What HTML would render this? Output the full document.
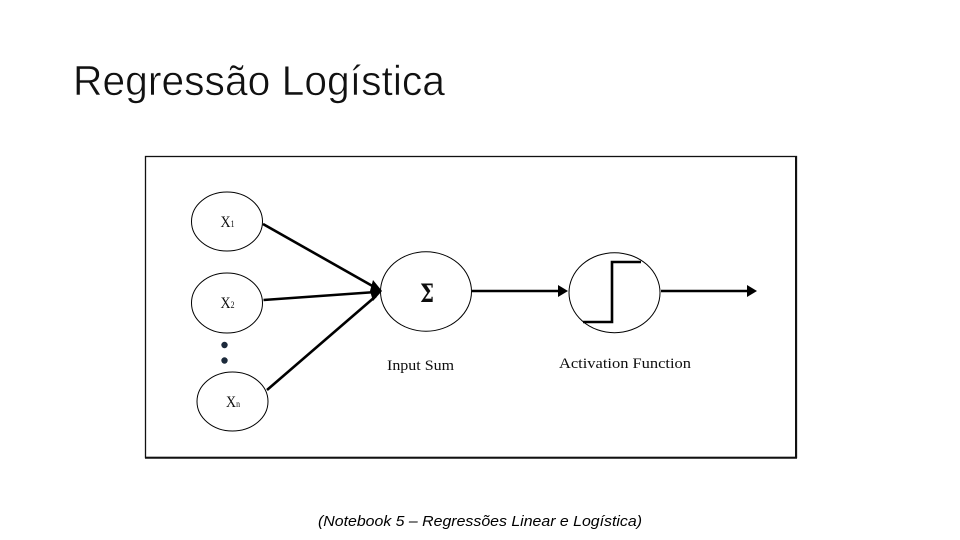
<!DOCTYPE html>
<html>
<head>
<meta charset="utf-8">
<style>
html,body{margin:0;padding:0;background:#fff;width:960px;height:540px;overflow:hidden}
svg{display:block}
</style>
</head>
<body>
<svg width="960" height="540" viewBox="0 0 960 540" xmlns="http://www.w3.org/2000/svg">
<defs><filter id="b" x="-5%" y="-5%" width="110%" height="110%"><feGaussianBlur stdDeviation="0.3"/></filter></defs>
<rect width="960" height="540" fill="#fff"/>
<text x="73" y="95" font-family="Liberation Sans, sans-serif" font-size="42" fill="#111" stroke="#fff" stroke-width="0.6" textLength="372" lengthAdjust="spacingAndGlyphs">Regressão Logística</text>

<rect x="145.5" y="156.5" width="651" height="301" fill="#fff" stroke="#111" stroke-width="1.3"/>
<line x1="145" y1="457.7" x2="797" y2="457.7" stroke="#111" stroke-width="2"/>
<line x1="796" y1="156" x2="796" y2="458" stroke="#111" stroke-width="2"/>

<g filter="url(#b)">
<g fill="none" stroke="#000" stroke-width="1">
<ellipse cx="227" cy="221.5" rx="35.5" ry="29.5"/>
<ellipse cx="227" cy="303" rx="35.5" ry="30"/>
<ellipse cx="232.5" cy="401.5" rx="35.5" ry="29.5"/>
<ellipse cx="426" cy="291.5" rx="45.5" ry="39.7"/>
<ellipse cx="614.5" cy="292.7" rx="45.5" ry="40"/>
</g>

<circle cx="224.5" cy="345" r="3.2" fill="#1c2a3a"/>
<circle cx="224.5" cy="360.5" r="3.2" fill="#1c2a3a"/>

<g stroke="#000" fill="none">
<line x1="263" y1="224" x2="376" y2="288" stroke-width="2.6"/>
<line x1="263.5" y1="300" x2="376" y2="292" stroke-width="2.6"/>
<line x1="267" y1="390" x2="376" y2="296" stroke-width="2.6"/>
<line x1="472" y1="291" x2="560" y2="291" stroke-width="2.6"/>
<line x1="661" y1="291" x2="750" y2="291" stroke-width="2.6"/>
<polyline points="583,322 612,322 612,262 641,262" stroke-width="2.6"/>
</g>
<g fill="#000">
<polygon points="382,291 373,280 370,291 373,301"/>
<polygon points="568,291 558,285 558,297"/>
<polygon points="757,291 747,285 747,297"/>
</g>

<g font-family="Liberation Serif, serif" fill="#111">
<text x="220.5" y="227" font-size="16" textLength="14" lengthAdjust="spacingAndGlyphs">X<tspan font-size="9">1</tspan></text>
<text x="220.5" y="308" font-size="16" textLength="14" lengthAdjust="spacingAndGlyphs">X<tspan font-size="9">2</tspan></text>
<text x="226" y="407" font-size="16" textLength="14" lengthAdjust="spacingAndGlyphs">X<tspan font-size="9">n</tspan></text>
<text x="420" y="302" font-size="25" font-weight="bold" font-family="DejaVu Serif, serif" textLength="14" lengthAdjust="spacingAndGlyphs">Σ</text>
<text x="387" y="370" font-size="15" textLength="67" lengthAdjust="spacingAndGlyphs">Input Sum</text>
<text x="559" y="368" font-size="15" textLength="132" lengthAdjust="spacingAndGlyphs">Activation Function</text>
</g>
</g>

<text x="318" y="526" font-family="Liberation Sans, sans-serif" font-style="italic" font-size="14.5" fill="#000" textLength="324" lengthAdjust="spacingAndGlyphs">(Notebook 5 – Regressões Linear e Logística)</text>
</svg>
</body>
</html>
